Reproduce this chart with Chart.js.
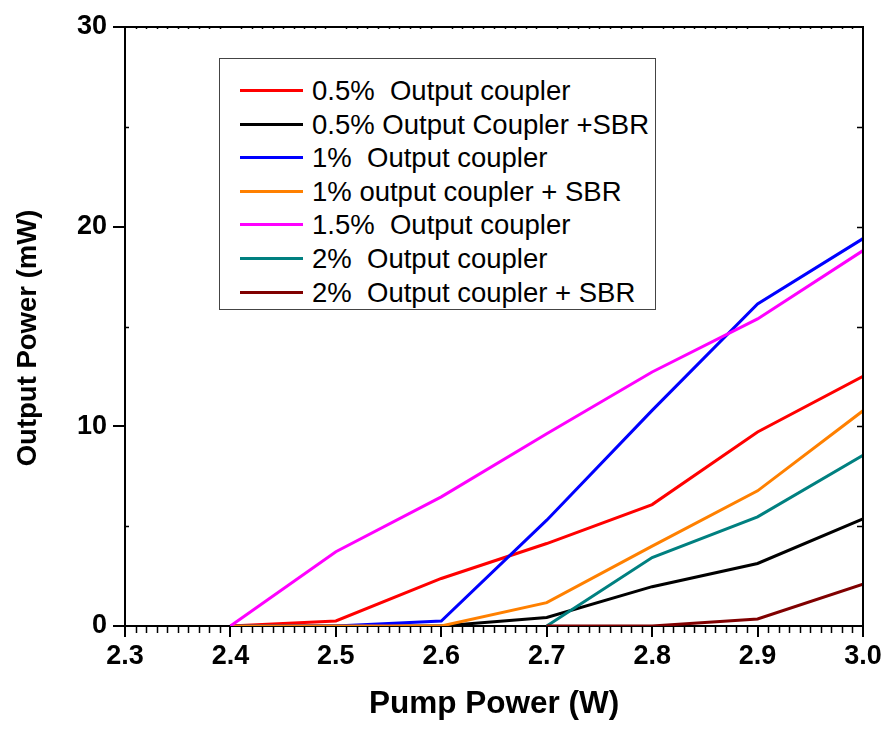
<!DOCTYPE html>
<html>
<head>
<meta charset="utf-8">
<script src="https://cdn.jsdelivr.net/npm/chart.js@4.4.0/dist/chart.umd.min.js"></script>
<style>
  body { margin: 0; background: #fff; }
  #wrap { position: relative; width: 885px; height: 731px; }
  #legend {
    position: absolute; left: 219px; top: 58px; width: 437px; height: 252px;
    border: 1px solid #444; box-sizing: border-box; background: #fff;
    font-family: "Liberation Sans", Arial, sans-serif; font-size: 27.5px; color: #000;
  }
  .row { position: absolute; left: 0; height: 34px; line-height: 34px; white-space: pre; }
  .row .sw { position: absolute; left: 20px; top: 15px; width: 63px; height: 3px; }
  .row .tx { position: absolute; left: 92px; top: 0; }
</style>
</head>
<body>
<div id="wrap">
  <canvas id="chart" width="885" height="731"></canvas>
  <div id="legend"></div>
</div>
<script>
// Pump power steps (W)
const pumpPower = [2.4, 2.5, 2.6, 2.7, 2.8, 2.9, 3.0];

// Output power (mW), null = no point
const oc05 = [0, 0.25, 2.38, 4.13, 6.08, 9.72, 12.5];
const oc05Sbr = [0, 0, 0, 0.43, 1.97, 3.13, 5.37];
const oc1 = [0, 0, 0.25, 5.3, 10.8, 16.13, 19.4];
const oc1Sbr = [0, 0, 0, 1.17, 4.0, 6.77, 10.78];
const oc15 = [0, 3.72, 6.47, 9.63, 12.72, 15.38, 18.8];
const oc2 = [null, null, null, 0, 3.43, 5.47, 8.55];
const oc2Sbr = [null, null, null, 0, 0, 0.35, 2.1];

const seriesNames = [
    '0.5%  Output coupler',
    '0.5% Output Coupler +SBR',
    '1%  Output coupler',
    '1% output coupler + SBR',
    '1.5%  Output coupler',
    '2%  Output coupler',
    '2%  Output coupler + SBR'
];
const seriesValues = [oc05, oc05Sbr, oc1, oc1Sbr, oc15, oc2, oc2Sbr];
const seriesColors = ['#ff0000', '#000000', '#0000ff', '#ff8000', '#ff00ff', '#008080', '#800000'];

const xTicks = [2.3, 2.4, 2.5, 2.6, 2.7, 2.8, 2.9, 3.0];
const yTicks = [0, 10, 20, 30];

const FONT = '"Liberation Sans", Arial, sans-serif';

const datasets = seriesNames.map((name, i) => ({
    label: name,
    data: pumpPower.map((x, j) => ({ x: x, y: seriesValues[i][j] })),
    borderColor: seriesColors[i],
    backgroundColor: seriesColors[i],
    borderWidth: 3,
    pointRadius: 0,
    fill: false,
    tension: 0,
    spanGaps: false,
    order: seriesNames.length - i // later series on top
}));

// frame + minor ticks, drawn along the library's scales
const axisExtras = {
    id: 'axisExtras',
    afterDraw(chart) {
        const ctx = chart.ctx;
        const a = chart.chartArea;
        const xs = chart.scales.x;
        const ys = chart.scales.y;
        ctx.save();
        ctx.strokeStyle = '#000';
        ctx.lineWidth = 2;
        ctx.beginPath();
        ctx.moveTo(a.left, a.top);
        ctx.lineTo(a.right, a.top);
        ctx.lineTo(a.right, a.bottom);
        ctx.stroke();
        ctx.lineWidth = 1.5;
        ctx.beginPath();
        for (let k = 0; k <= 70; k++) {
            if (k % 10 === 0) continue;
            const px = Math.round(xs.getPixelForValue(2.3 + k * 0.01)) + 0.5;
            ctx.moveTo(px, a.bottom);
            ctx.lineTo(px, a.bottom + 7);
            ctx.moveTo(px, a.top);
            ctx.lineTo(px, a.top + 2);
        }
        for (let v = 5; v < 30; v += 10) {
            const py = Math.round(ys.getPixelForValue(v)) + 0.5;
            ctx.moveTo(a.left, py);
            ctx.lineTo(a.left + 4, py);
        }
        for (let v = 5; v < 30; v += 5) {
            const py = Math.round(ys.getPixelForValue(v)) + 0.5;
            ctx.moveTo(a.right, py);
            ctx.lineTo(a.right - 6, py);
        }
        ctx.stroke();
        ctx.restore();
    }
};

const ctx = document.getElementById('chart').getContext('2d');
new Chart(ctx, {
    type: 'line',
    data: { datasets: datasets },
    options: {
        responsive: false,
        animation: false,
        layout: { padding: { top: 27, right: 22, left: 0, bottom: 0 } },
        plugins: { legend: { display: false }, tooltip: { enabled: false } },
        scales: {
            x: {
                type: 'linear',
                min: 2.3,
                max: 3.0,
                afterFit: s => { s.height = 105; },
                afterBuildTicks: s => { s.ticks = xTicks.map(v => ({ value: v })); },
                ticks: {
                    color: '#000',
                    padding: 3,
                    font: { family: FONT, size: 27, weight: 'bold' },
                    callback: v => v.toFixed(1)
                },
                grid: { drawOnChartArea: false, drawTicks: true, tickLength: 11, color: '#000', lineWidth: 2 },
                border: { color: '#000', width: 2 },
                title: {
                    display: true,
                    text: 'Pump Power (W)',
                    color: '#000',
                    font: { family: FONT, size: 31.5, weight: 'bold' },
                    padding: { top: 8, bottom: 8 }
                }
            },
            y: {
                type: 'linear',
                min: 0,
                max: 30,
                afterFit: s => { s.width = 125; },
                afterBuildTicks: s => { s.ticks = yTicks.map(v => ({ value: v })); },
                ticks: {
                    color: '#000',
                    padding: 6,
                    font: { family: FONT, size: 27, weight: 'bold' }
                },
                grid: { drawOnChartArea: false, drawTicks: true, tickLength: 12, color: '#000', lineWidth: 2 },
                border: { color: '#000', width: 2 },
                title: {
                    display: true,
                    // trailing spaces nudge the rotated title down like the original
                    text: 'Output Power (mW)   ',
                    color: '#000',
                    font: { family: FONT, size: 27.5, weight: 'bold' },
                    padding: { top: 12, bottom: 12 }
                }
            }
        }
    },
    plugins: [axisExtras]
});

// legend box inside the plot
const legend = document.getElementById('legend');
seriesNames.forEach((name, i) => {
    const row = document.createElement('div');
    row.className = 'row';
    row.style.top = (15 + i * 33.6) + 'px';
    row.innerHTML = '<span class="sw" style="background:' + seriesColors[i] + '"></span><span class="tx"></span>';
    row.querySelector('.tx').textContent = name;
    legend.appendChild(row);
});
</script>
</body>
</html>
